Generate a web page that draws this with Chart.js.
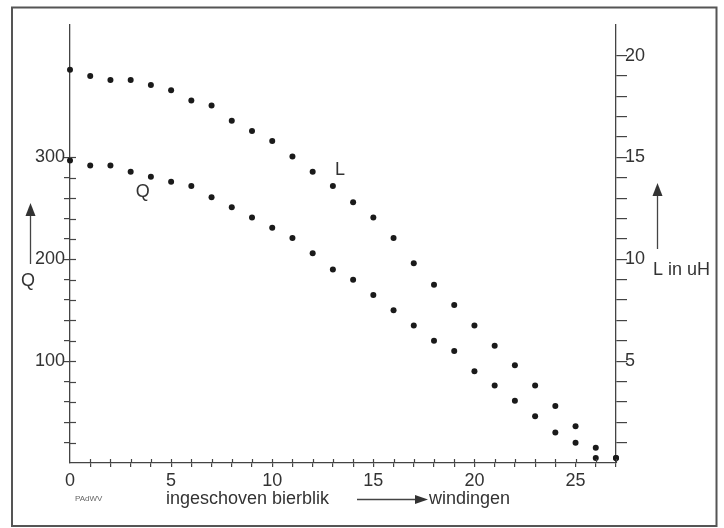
<!DOCTYPE html>
<html>
<head>
<meta charset="utf-8">
<script src="https://cdn.jsdelivr.net/npm/chart.js@4"></script>
<style>
  html, body { margin: 0; padding: 0; background: #fff; }
  #wrap { position: relative; width: 724px; height: 528px; }
</style>
</head>
<body>
<div id="wrap"><canvas id="spoelChart"></canvas></div>
<script>
// aantal windingen ingeschoven bierblik
const windingen = [0, 1, 2, 3, 4, 5, 6, 7, 8, 9, 10, 11, 12, 13, 14, 15, 16, 17, 18, 19, 20, 21, 22, 23, 24, 25, 26, 27];
// Q-factor (linker as)
const qValues = [297, 292, 292, 286, 281, 276, 272, 261, 251, 241, 231, 221, 206, 190, 180, 165, 150, 135, 120, 110, 90, 76, 61, 46, 30, 20, 5, 5];
// zelfinductie L in uH (rechter as)
const lValues = [19.3, 19.0, 18.8, 18.8, 18.55, 18.3, 17.8, 17.55, 16.8, 16.3, 15.8, 15.05, 14.3, 13.6, 12.8, 12.05, 11.05, 9.8, 8.75, 7.75, 6.75, 5.75, 4.8, 3.8, 2.8, 1.8, 0.75, 0.25];
const qTickLabels = [100, 200, 300];
const lTickLabels = [5, 10, 15, 20];
const xTickLabels = [0, 5, 10, 15, 20, 25];

const INK = '#333';
Chart.defaults.font.family = '"Liberation Sans", Arial, sans-serif';
Chart.defaults.font.size = 18;
Chart.defaults.color = INK;

function toPoints(xs, ys) {
    return xs.map((x, i) => ({ x: x, y: ys[i] }));
}

function drawArrow(ctx, x1, y1, x2, y2, headLen, headHalf) {
    const ang = Math.atan2(y2 - y1, x2 - x1);
    const bx = x2 - headLen * Math.cos(ang);
    const by = y2 - headLen * Math.sin(ang);
    ctx.beginPath();
    ctx.moveTo(x1, y1);
    ctx.lineTo(bx, by);
    ctx.stroke();
    ctx.beginPath();
    ctx.moveTo(x2, y2);
    ctx.lineTo(bx + headHalf * Math.sin(ang), by - headHalf * Math.cos(ang));
    ctx.lineTo(bx - headHalf * Math.sin(ang), by + headHalf * Math.cos(ang));
    ctx.closePath();
    ctx.fill();
}

// ticks crossing the left and bottom axis (inner half)
const innerTicks = {
    id: 'innerTicks',
    afterDraw(chart) {
        const ctx = chart.ctx;
        const area = chart.chartArea;
        const x = chart.scales.x;
        const yQ = chart.scales.yQ;
        ctx.save();
        ctx.strokeStyle = '#444';
        ctx.lineWidth = 1.2;
        x.ticks.forEach(t => {
            if (t.value <= 0) return;
            const px = Math.round(x.getPixelForValue(t.value)) + 0.5;
            ctx.beginPath();
            ctx.moveTo(px, area.bottom);
            ctx.lineTo(px, area.bottom - 4);
            ctx.stroke();
        });
        yQ.ticks.forEach(t => {
            if (t.value <= 0 || t.value > 300) return;
            const py = Math.round(yQ.getPixelForValue(t.value)) + 0.5;
            ctx.beginPath();
            ctx.moveTo(area.left, py);
            ctx.lineTo(area.left + 6, py);
            ctx.stroke();
        });
        ctx.restore();
    }
};

// frame, axis captions, arrows and curve labels
const captions = {
    id: 'captions',
    afterDraw(chart) {
        const ctx = chart.ctx;
        const area = chart.chartArea;
        const x = chart.scales.x;
        const yQ = chart.scales.yQ;
        const yL = chart.scales.yL;
        ctx.save();
        ctx.strokeStyle = '#555';
        ctx.lineWidth = 2;
        ctx.strokeRect(12, 7.5, 704.5, 518.5);

        ctx.fillStyle = INK;
        ctx.strokeStyle = '#444';
        ctx.lineWidth = 1.3;
        ctx.font = '18px "Liberation Sans", Arial, sans-serif';
        ctx.textBaseline = 'middle';

        // curve labels
        ctx.textAlign = 'center';
        ctx.fillText('L', x.getPixelForValue(13.35), yL.getPixelForValue(14.4));
        ctx.fillText('Q', x.getPixelForValue(3.6), yQ.getPixelForValue(266));

        // left axis caption
        ctx.fillText('Q', area.left - 42, 281);
        drawArrow(ctx, area.left - 39.5, 264, area.left - 39.5, 203, 13, 5);

        // right axis caption
        ctx.textAlign = 'left';
        ctx.fillText('L in uH', area.right + 37, 270);
        drawArrow(ctx, area.right + 41.5, 249, area.right + 41.5, 183, 13, 5);

        // bottom caption
        ctx.fillText('ingeschoven bierblik', 166, 499);
        ctx.fillText('windingen', 429, 499);
        drawArrow(ctx, 357, 499.5, 428, 499.5, 13, 4.5);

        ctx.font = '8px "Liberation Sans", Arial, sans-serif';
        ctx.fillStyle = '#666';
        ctx.fillText('PAdWV', 75, 499);
        ctx.restore();
    }
};

function tickColor(maxVal) {
    return ctx => (ctx.tick && ctx.tick.value > 0 && ctx.tick.value <= maxVal) ? '#444' : 'rgba(0,0,0,0)';
}

new Chart(document.getElementById('spoelChart'), {
    type: 'scatter',
    data: {
        datasets: [
            {
                label: 'L',
                data: toPoints(windingen, lValues),
                yAxisID: 'yL',
                pointRadius: 3,
                pointBackgroundColor: '#1a1a1a',
                pointBorderWidth: 0,
                clip: false
            },
            {
                label: 'Q',
                data: toPoints(windingen, qValues),
                yAxisID: 'yQ',
                pointRadius: 3,
                pointBackgroundColor: '#1a1a1a',
                pointBorderWidth: 0,
                clip: false
            }
        ]
    },
    options: {
        responsive: true,
        maintainAspectRatio: false,
        animation: false,
        layout: { padding: { top: 25, left: 0, right: 0, bottom: 0 } },
        plugins: {
            legend: { display: false },
            tooltip: { enabled: false }
        },
        scales: {
            x: {
                type: 'linear',
                position: 'bottom',
                min: 0,
                max: 27,
                ticks: {
                    stepSize: 1,
                    autoSkip: false,
                    maxRotation: 0,
                    padding: 3,
                    callback: v => xTickLabels.includes(v) ? v : ''
                },
                grid: { drawOnChartArea: false, tickLength: 4, color: tickColor(27), lineWidth: 1.2 },
                border: { display: true, color: '#444', width: 1.3 },
                afterFit: s => { s.height = 65; }
            },
            yQ: {
                type: 'linear',
                position: 'left',
                min: 0,
                max: 430,
                ticks: {
                    stepSize: 20,
                    autoSkip: false,
                    padding: -1,
                    callback: v => qTickLabels.includes(v) ? v : ''
                },
                grid: { drawOnChartArea: false, tickLength: 6, color: tickColor(300), lineWidth: 1.2 },
                border: { display: true, color: '#444', width: 1.3 },
                afterFit: s => { s.width = 70; }
            },
            yL: {
                type: 'linear',
                position: 'right',
                min: 0,
                max: 21.5,
                ticks: {
                    stepSize: 1,
                    autoSkip: false,
                    padding: -2,
                    callback: v => lTickLabels.includes(v) ? v : ''
                },
                grid: { drawOnChartArea: false, tickLength: 11, color: tickColor(20), lineWidth: 1.2 },
                border: { display: true, color: '#444', width: 1.3 },
                afterFit: s => { s.width = 108; }
            }
        }
    },
    plugins: [innerTicks, captions]
});
</script>
</body>
</html>
